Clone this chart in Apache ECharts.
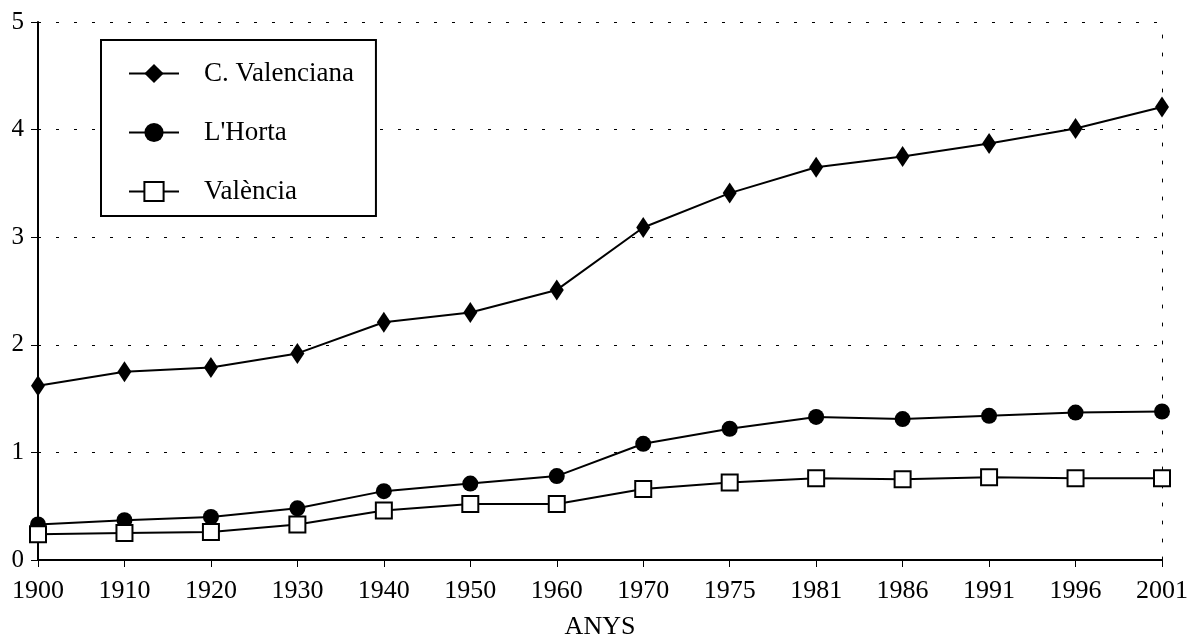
<!DOCTYPE html>
<html>
<head>
<meta charset="utf-8">
<script src="https://cdn.jsdelivr.net/npm/echarts@6/dist/echarts.min.js"></script>
<style>
  html, body { margin: 0; padding: 0; background: #fff; }
  #chart { width: 1188px; height: 637px; }
</style>
</head>
<body>
<div id="chart"></div>
<script>
const years = ["1900", "1910", "1920", "1930", "1940", "1950", "1960", "1970", "1975", "1981", "1986", "1991", "1996", "2001"]
const cValenciana = [1.62, 1.75, 1.79, 1.92, 2.21, 2.30, 2.51, 3.09, 3.41, 3.65, 3.75, 3.87, 4.01, 4.21]
const lHorta = [0.33, 0.37, 0.40, 0.48, 0.64, 0.71, 0.78, 1.08, 1.22, 1.33, 1.31, 1.34, 1.37, 1.38]
const valencia = [0.24, 0.25, 0.26, 0.33, 0.46, 0.52, 0.52, 0.66, 0.72, 0.76, 0.75, 0.77, 0.76, 0.76]

const font = "Liberation Serif"
const chart = echarts.init(document.getElementById("chart"))

const dotted = { color: "#000", width: 1, type: [3, 15] }

const lineSeries = (name, data, symbol, size, fill) => ({
  name,
  type: "line",
  data,
  symbol,
  symbolSize: size,
  showAllSymbol: true,
  lineStyle: { color: "#000", width: 2 },
  itemStyle: { color: fill, borderColor: "#000", borderWidth: fill === "#fff" ? 2 : 0 },
  emphasis: { disabled: true },
  animation: false
})

chart.setOption({
  backgroundColor: "#fff",
  animation: false,
  grid: { left: 38, right: 26, top: 22, bottom: 77, outerBoundsMode: "none" },
  legend: {
    orient: "vertical",
    left: 101,
    top: 40,
    padding: [20, 22, 11, 27],
    itemGap: 32,
    itemWidth: 50,
    itemHeight: 24,
    borderColor: "#000",
    borderWidth: 2,
    backgroundColor: "#fff",
    textStyle: { fontFamily: font, fontSize: 27, lineHeight: 27, color: "#000", padding: [0, 0, 0, 20] },
    data: ["C. Valenciana", "L'Horta", "València"]
  },
  xAxis: {
    type: "category",
    data: years,
    boundaryGap: false,
    name: "ANYS",
    nameLocation: "middle",
    nameGap: 54,
    nameTextStyle: { fontFamily: font, fontSize: 26, color: "#000" },
    axisLine: { lineStyle: { color: "#000", width: 2 } },
    axisTick: { show: true, length: 7, alignWithLabel: true, lineStyle: { color: "#000", width: 1 } },
    axisLabel: { fontFamily: font, fontSize: 26, color: "#000", margin: 18, interval: 0 },
    splitLine: { show: false }
  },
  yAxis: [
    {
      type: "value",
      min: 0,
      max: 5,
      interval: 1,
      axisLine: { show: true, lineStyle: { color: "#000", width: 2 } },
      axisTick: { show: true, length: 7, lineStyle: { color: "#000", width: 1 } },
      axisLabel: { fontFamily: font, fontSize: 25, color: "#000", margin: 14 },
      splitLine: { show: true, lineStyle: dotted }
    },
    {
      type: "value",
      position: "right",
      min: 0,
      max: 5,
      interval: 1,
      axisLine: { show: true, lineStyle: dotted },
      axisTick: { show: false },
      axisLabel: { show: false },
      splitLine: { show: false }
    }
  ],
  series: [
    lineSeries("C. Valenciana", cValenciana, "diamond", [14, 21], "#000"),
    lineSeries("L'Horta", lHorta, "circle", 16, "#000"),
    lineSeries("València", valencia, "rect", 16, "#fff")
  ]
})
</script>
</body>
</html>
